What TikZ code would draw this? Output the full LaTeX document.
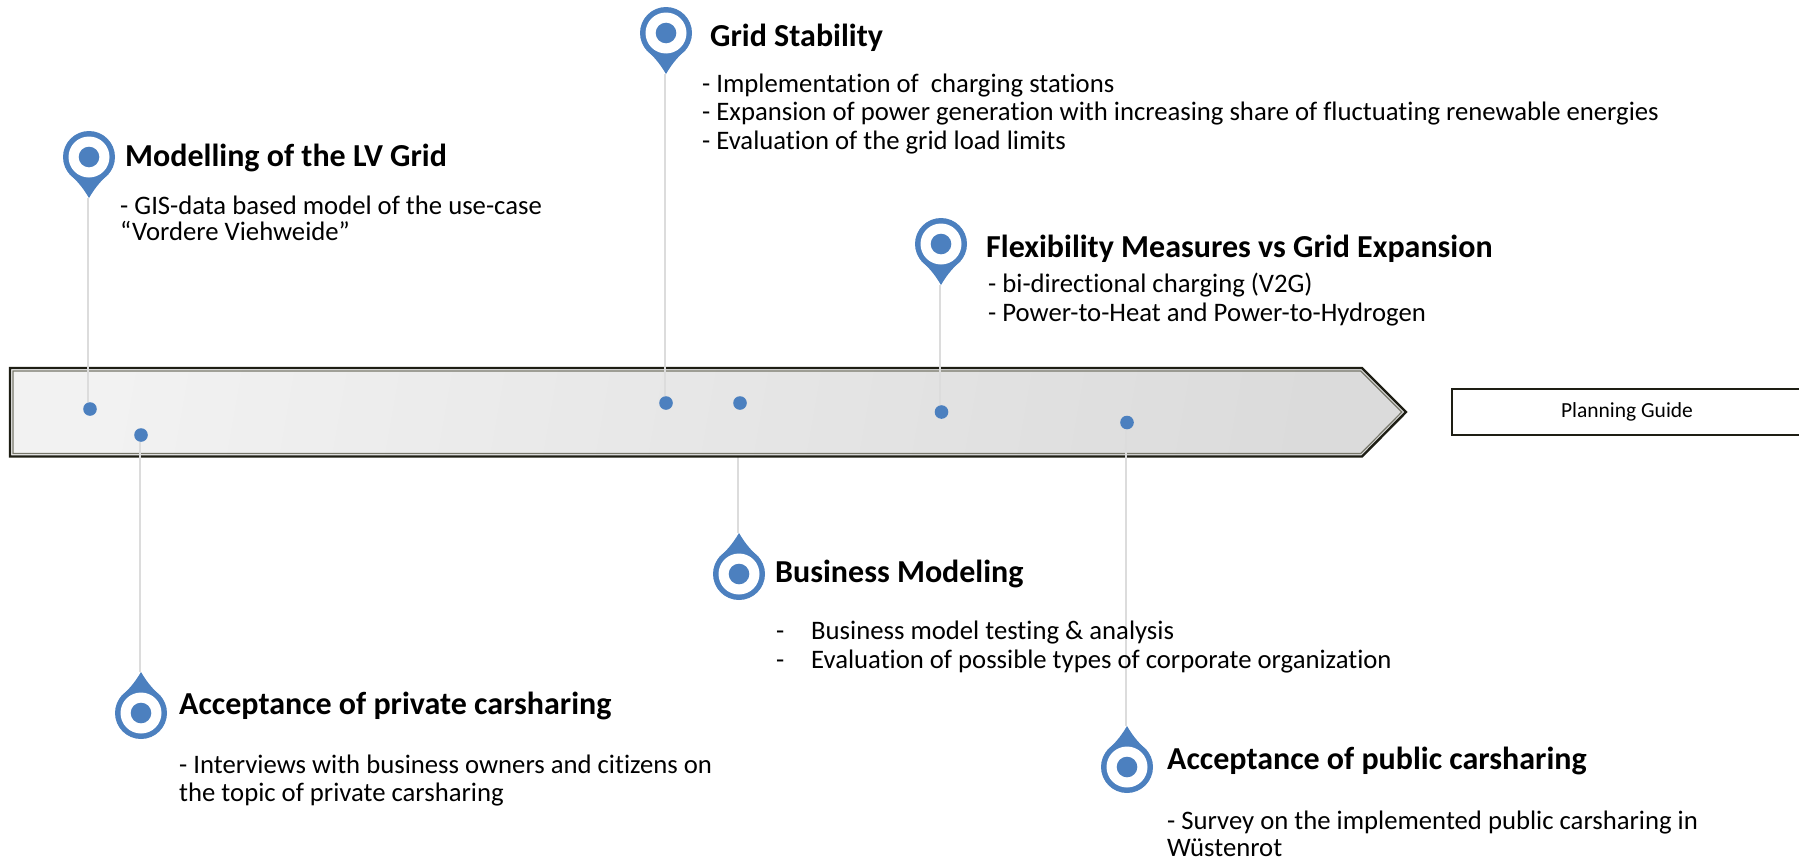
\documentclass[tikz,border=0pt]{standalone}
\usepackage{fontspec}
\setmainfont[Ligatures=NoCommon]{Carlito}
\usetikzlibrary{backgrounds}
\definecolor{pinblue}{HTML}{4C80BF}
\definecolor{stemgray}{HTML}{DCDCDC}
\definecolor{barline}{HTML}{1E1E14}
\definecolor{barinner}{HTML}{77776A}
\definecolor{barleft}{HTML}{F2F2F2}
\definecolor{barright}{HTML}{DBDBDB}
\tikzset{
  title/.style={anchor=west,inner sep=0pt,font=\fontsize{32}{38}\selectfont\bfseries},
  body/.style={anchor=west,inner sep=0pt,align=left,font=\fontsize{26.7}{28.6}\selectfont},
  dot/.style={circle,fill=pinblue,inner sep=0pt,minimum size=13.6pt},
  guide/.style={draw=barline,line width=1.5pt,minimum width=350pt,minimum height=46pt,inner sep=0pt,font=\fontsize{21.5}{26}\selectfont},
  stem/.style={draw=stemgray,line width=1.8pt},
  pinmark/.pic={
    \fill[pinblue] (0,0) circle (26pt);
    \fill[pinblue] (0,41) .. controls (7,29) and (13,23) .. (20.1,16.5) -- (-20.1,16.5) .. controls (-13,23) and (-7,29) .. (0,41) -- cycle;
    \fill[white] (0,0) circle (20.5pt);
    \fill[pinblue] (0,0) circle (10.3pt);
    \coordinate (-tip) at (-1,41);
  }
}
\begin{document}
\begin{tikzpicture}[x=1pt,y=-1pt]
      \useasboundingbox (0,0) rectangle (1799,862);
      % timeline bar
      \shade[left color=barleft,right color=barright,shading angle=80]
        (10,368) -- (1362,368) -- (1406,412) -- (1362,456.5) -- (10,456.5) -- cycle;
      \draw[barline,line width=2.4pt,line join=miter]
        (10,368) -- (1362,368) -- (1406,412) -- (1362,456.5) -- (10,456.5) -- cycle;
      \draw[barinner,line width=1.2pt]
        (13,371) -- (1360.8,371) -- (1401.8,412) -- (1360.8,453.5) -- (13,453.5) -- cycle;
      \node[guide] (planning) at (1627,412) {Planning Guide};
      % pins
      \pic (lvgrid) at (89,157) {pinmark};
      \pic (stability) at (666,33) {pinmark};
      \pic (flexibility) at (941,244) {pinmark};
      \pic[yscale=-1] (business) at (739,574) {pinmark};
      \pic[yscale=-1] (private) at (141,713) {pinmark};
      \pic[yscale=-1] (public) at (1127,767) {pinmark};
      % dots on the bar
      \node[dot] (d0) at (90,409) {};
      \node[dot] (d1) at (141,435) {};
      \node[dot] (d2) at (666,403) {};
      \node[dot] (d3) at (740,403) {};
      \node[dot] (d4) at (941.5,412) {};
      \node[dot] (d5) at (1127,422.5) {};
      \begin{scope}[-]
        \draw[stem] (lvgrid-tip) to (lvgrid-tip |- d0.north);
        \draw[stem] (private-tip) to (private-tip |- d1.south);
        \draw[stem] (stability-tip) to (stability-tip |- d2.north);
        \draw[stem] (flexibility-tip) to (flexibility-tip |- d4.north);
        \draw[stem] (public-tip) to (public-tip |- d5.south);
      \end{scope}
      \begin{scope}[on background layer]
        \draw[stem] (business-tip) to (business-tip |- d3.south);
      \end{scope}
      % texts
      \node[title] (t0) at (125,158) {Modelling of the LV Grid};
      \node[body] (b0) at (120,218) {- GIS-data based model of the use-case\\[-2.5pt]“Vordere Viehweide”};
      \node[title] (t2) at (710,38) {Grid Stability};
      \node[body] (b2) at (702,114) {- Implementation of\ \ charging stations\\- Expansion of power generation with increasing share of fluctuating renewable energies\\- Evaluation of the grid load limits};
      \node[title] (t4) at (986,249) {Flexibility Measures vs Grid Expansion};
      \node[body] (b4) at (988,299.5) {- bi-directional charging (V2G)\\- Power-to-Heat and Power-to-Hydrogen};
      \node[title] (t3) at (775,573.5) {Business Modeling};
      \node[body] (b3) at (776,647) {\makebox[35pt][l]{-}Business model testing \& analysis\\\makebox[35pt][l]{-}Evaluation of possible types of corporate organization};
      \node[title] (t1) at (179,705.5) {Acceptance of private carsharing};
      \node[body] (b1) at (179,780.5) {- Interviews with business owners and citizens on\\the topic of private carsharing};
      \node[title] (t5) at (1167,760.5) {Acceptance of public carsharing};
      \node[body] (b5) at (1167,834) {- Survey on the implemented public carsharing in\\[-1pt]Wüstenrot};
    \end{tikzpicture}
\end{document}
